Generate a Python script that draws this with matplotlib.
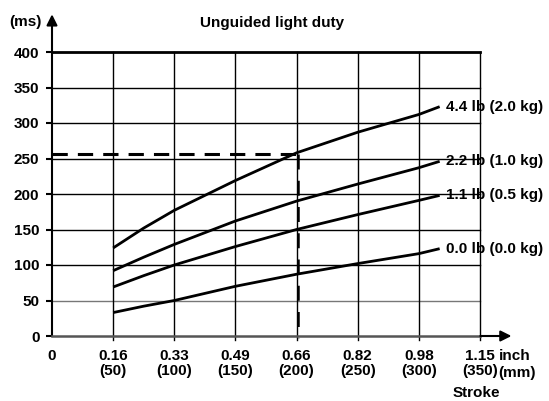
import matplotlib
matplotlib.use("Agg")
from matplotlib import pyplot as plt

plt.rcParams['font.family'] = ['Liberation Sans', 'DejaVu Sans']
plt.rcParams['font.weight'] = 'bold'

# stroke positions in mm and response times in ms
x_mm = [50, 75, 100, 150, 200, 250, 300, 317]
t_44 = [124, 152, 177, 219, 258, 287, 312, 323]
t_22 = [92, 111, 129, 162, 190, 214, 237, 246]
t_11 = [69, 85, 100, 126, 150, 171, 191, 198]
t_00 = [33, 42, 50, 70, 87, 102, 116, 123]
labels = ['4.4 lb (2.0 kg)', '2.2 lb (1.0 kg)', '1.1 lb (0.5 kg)', '0.0 lb (0.0 kg)']

xticks = [0, 50, 100, 150, 200, 250, 300, 350]
xticklabels = ['0', '0.16\n(50)', '0.33\n(100)', '0.49\n(150)', '0.66\n(200)',
               '0.82\n(250)', '0.98\n(300)', '1.15\n(350)']
yticks = [0, 50, 100, 150, 200, 250, 300, 350, 400]

mark_x = 201.5
mark_y = 256

fs = 11

fig = plt.figure(figsize=(5.49, 4.01), dpi=100)
ax = fig.add_axes([52 / 549, 1 - 336 / 401, 428 / 549, 284 / 401])
ax.set_xlim(0, 350)
ax.set_ylim(0, 400)

for s in ['top', 'right']:
    ax.spines[s].set_visible(False)
ax.spines['left'].set_linewidth(1.5)
ax.spines['bottom'].set_linewidth(1.8)
ax.spines['bottom'].set_color('#555555')

# grid
for v in yticks[1:]:
    c = '#777777' if v == 50 else 'black'
    ax.plot([0, 350], [v, v], color=c, lw=2 if v == 400 else 1, clip_on=False, zorder=1)
for v in xticks[1:]:
    ax.plot([v, v], [-5, 400], color='black', lw=1, clip_on=False, zorder=1)

# curves
for ys, lab in zip([t_44, t_22, t_11, t_00], labels):
    ax.plot(x_mm, ys, color='black', lw=2, zorder=3, solid_capstyle='butt')
    ax.text(x_mm[-1] + 5, ys[-1], lab, fontsize=fs, fontweight='bold',
            va='center', ha='left', clip_on=False)

# dashed guide
ax.plot([0, mark_x], [mark_y, mark_y], color='black', lw=2.2, dashes=(5, 3.3), zorder=2)
ax.plot([mark_x, mark_x], [mark_y, -3], color='black', lw=1.8, dashes=(6, 4.5), zorder=2,
        clip_on=False)

ax.set_xticks(xticks)
ax.set_xticklabels(xticklabels, fontsize=fs, fontweight='bold', linespacing=1.15)
ax.set_yticks(yticks)
ax.set_yticklabels([str(v) for v in yticks], fontsize=fs, fontweight='bold')
ax.tick_params(axis='y', length=4, width=1.5, pad=5)
ax.tick_params(axis='x', length=0, pad=9)

# axis arrows
ax.annotate('', xy=(0, 457), xytext=(0, 398), xycoords='data',
            arrowprops=dict(arrowstyle='-|>', color='black', lw=1.5, mutation_scale=16),
            annotation_clip=False)
ax.annotate('', xy=(378, 0), xytext=(348, 0), xycoords='data',
            arrowprops=dict(arrowstyle='-|>', color='black', lw=1.5, mutation_scale=16),
            annotation_clip=False)

fig.text(25 / 549, 1 - 22 / 401, '(ms)', fontsize=fs, fontweight='bold', ha='center', va='center')
fig.text(272 / 549, 1 - 23 / 401, 'Unguided light duty', fontsize=11, fontweight='bold',
         ha='center', va='center')
fig.text(515 / 549, 1 - 356 / 401, 'inch', fontsize=fs, fontweight='bold', ha='center', va='center')
fig.text(517 / 549, 1 - 373 / 401, '(mm)', fontsize=fs, fontweight='bold', ha='center', va='center')
fig.text(476 / 549, 1 - 393 / 401, 'Stroke', fontsize=fs, fontweight='bold', ha='center', va='center')

fig.savefig('out.png', dpi=100)
